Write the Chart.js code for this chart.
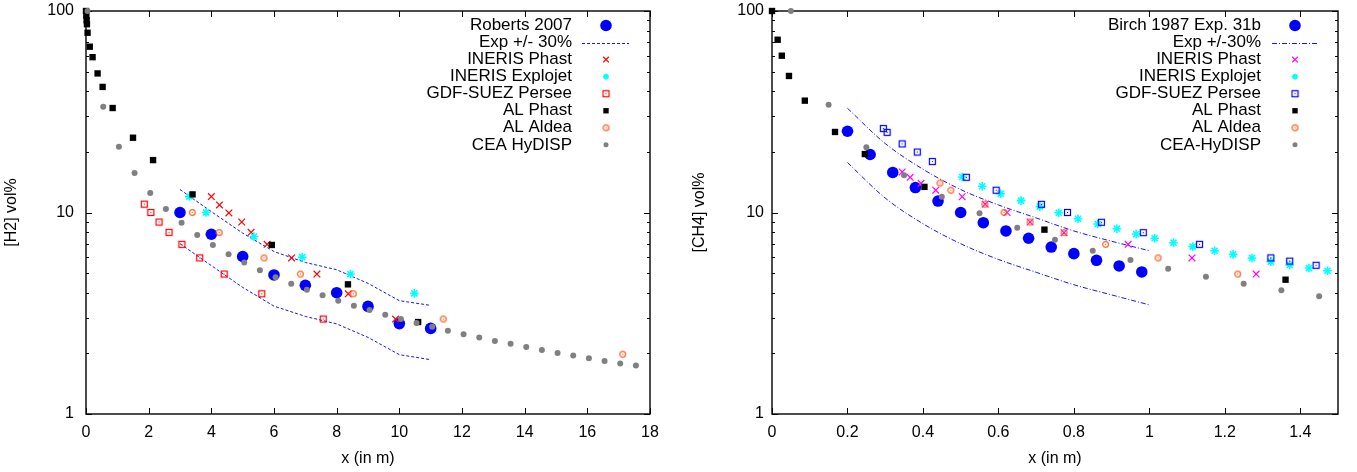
<!DOCTYPE html>
<html>
<head>
<meta charset="utf-8">
<script src="https://cdn.jsdelivr.net/npm/chart.js@4.4.0/dist/chart.umd.min.js"></script>
<style>
  html, body { margin: 0; padding: 0; background: #fff; }
  #wrap { position: relative; width: 1357px; height: 472px; }
  .panel { position: absolute; top: 0; height: 472px; }
  #left { left: 0; width: 680px; }
  #right { left: 680px; width: 677px; }
</style>
</head>
<body>
<div id="wrap">
  <div class="panel" id="left"><canvas id="h2Chart" width="680" height="472"></canvas></div>
  <div class="panel" id="right"><canvas id="ch4Chart" width="677" height="472"></canvas></div>
</div>
<script>
// ---- axes ----
const h2XTicks = [0, 2, 4, 6, 8, 10, 12, 14, 16, 18];
const ch4XTicks = [0, 0.2, 0.4, 0.6, 0.8, 1, 1.2, 1.4];
const yTicks = [1, 10, 100];
const yMinorTicks = [2, 3, 4, 5, 6, 7, 8, 9, 20, 30, 40, 50, 60, 70, 80, 90];

// ---- H2 release (left) ----
const robertsX = [3, 4, 5, 6, 7, 8, 9, 10, 11];
const robertsY = [10, 7.8, 6.05, 4.9, 4.35, 4.0, 3.42, 2.81, 2.66];
const h2BandX = [3, 4, 5, 6, 7, 8, 9, 10, 11];
const h2UpperY = [13, 10.1, 7.9, 6.4, 5.65, 5.2, 4.45, 3.65, 3.46];
const h2LowerY = [7, 5.45, 4.25, 3.43, 3.05, 2.8, 2.4, 1.97, 1.86];
const h2PhastX = [4, 4.26, 4.56, 4.97, 5.27, 5.78, 6.56, 7.37, 8.37, 9.88];
const h2PhastY = [12, 10.9, 9.95, 8.97, 7.97, 6.95, 5.95, 4.95, 3.95, 2.96];
const h2ExplojetX = [3.3, 3.83, 5.36, 6.9, 8.44, 10.48];
const h2ExplojetY = [12, 10, 7.6, 6, 4.95, 3.97];
const h2PerseeX = [1.86, 2.07, 2.33, 2.65, 3.06, 3.63, 4.41, 5.61, 7.57];
const h2PerseeY = [11, 10, 8.97, 7.97, 6.95, 5.95, 4.95, 3.95, 2.96];
const h2AlPhastX = [0, 0.01, 0.02, 0.03, 0.05, 0.12, 0.21, 0.37, 0.53, 0.85, 1.5, 2.14, 3.4, 5.93, 8.36, 10.6];
const h2AlPhastY = [100, 95, 90, 86, 78, 66.5, 59, 49, 42, 33, 23.5, 18.2, 12.3, 6.9, 4.4, 2.86];
const h2AldeaX = [3.39, 4.25, 5.68, 6.84, 8.53, 11.4, 17.13];
const h2AldeaY = [10, 7.95, 5.95, 4.95, 3.95, 2.96, 1.98];
const h2HydispX = [0.05, 0.55, 1.05, 1.55, 2.05, 2.55, 3.05, 3.55, 4.05, 4.55, 5.05, 5.55, 6.05, 6.55, 7.05, 7.55, 8.05, 8.55,
  9.05, 9.55, 10.05, 10.55, 11.05, 11.55, 12.05, 12.55, 13.05, 13.55, 14.05, 14.55, 15.05, 15.55, 16.05, 16.55, 17.05, 17.55];
const h2HydispY = [100, 33.5, 21.2, 15.7, 12.5, 10.4, 8.9, 7.74, 6.9, 6.2, 5.64, 5.17, 4.77, 4.43, 4.14, 3.88, 3.65, 3.45,
  3.28, 3.11, 2.96, 2.83, 2.71, 2.59, 2.49, 2.40, 2.30, 2.23, 2.15, 2.08, 2.01, 1.95, 1.89, 1.83, 1.78, 1.74];

// ---- CH4 release (right) ----
const birchX = [0.2, 0.26, 0.32, 0.38, 0.44, 0.5, 0.56, 0.62, 0.68, 0.74, 0.8, 0.86, 0.92, 0.98];
const birchY = [25.3, 19.4, 15.8, 13.3, 11.4, 10.0, 8.9, 8.1, 7.45, 6.74, 6.25, 5.79, 5.43, 5.07];
const ch4BandX = [0.2, 0.3, 0.4, 0.5, 0.6, 0.7, 0.8, 0.9, 1.0];
const ch4UpperY = [32.9, 22.0, 16.4, 13.0, 10.9, 9.4, 8.1, 7.2, 6.46];
const ch4LowerY = [17.7, 11.8, 8.8, 7.0, 5.85, 5.05, 4.38, 3.9, 3.48];
const ch4PhastX = [0.345, 0.366, 0.395, 0.434, 0.504, 0.565, 0.623, 0.684, 0.774, 0.944, 1.113, 1.283];
const ch4PhastY = [15.9, 14.95, 13.96, 12.9, 11.97, 11, 10, 8.97, 7.94, 6.95, 5.95, 4.95];
const ch4ExplojetX = [0.504, 0.557, 0.606, 0.66, 0.71, 0.76, 0.811, 0.863, 0.914, 0.965, 1.014, 1.064, 1.115, 1.173,
  1.222, 1.272, 1.322, 1.372, 1.423, 1.472];
const ch4ExplojetY = [15.0, 13.5, 12.4, 11.45, 10.7, 9.97, 9.31, 8.77, 8.31, 7.82, 7.45, 7.08, 6.77, 6.46,
  6.2, 5.95, 5.7, 5.49, 5.3, 5.14];
const ch4PerseeX = [0.295, 0.305, 0.345, 0.385, 0.425, 0.515, 0.594, 0.714, 0.783, 0.873, 0.984, 1.133, 1.322, 1.372, 1.442];
const ch4PerseeY = [26.1, 25.0, 21.9, 19.96, 17.9, 14.95, 12.9, 10.98, 10, 8.94, 7.94, 6.95, 5.95, 5.74, 5.47];
const ch4AlPhastX = [0, 0.015, 0.026, 0.045, 0.087, 0.167, 0.246, 0.404, 0.722, 1.361];
const ch4AlPhastY = [100, 72, 60, 47.6, 35.9, 25.1, 19.5, 13.4, 8.22, 4.64];
const ch4AldeaX = [0.445, 0.474, 0.564, 0.615, 0.684, 0.774, 0.884, 1.023, 1.234];
const ch4AldeaY = [14, 12.9, 11, 10, 8.97, 7.94, 6.95, 5.95, 4.95];
const ch4HydispX = [0.05, 0.15, 0.25, 0.35, 0.45, 0.55, 0.65, 0.75, 0.85, 0.95, 1.05, 1.15, 1.25, 1.35, 1.45];
const ch4HydispY = [100, 34.3, 21.1, 15.3, 11.97, 9.91, 8.41, 7.33, 6.46, 5.81, 5.26, 4.80, 4.43, 4.11, 3.84];

const FONT = '"Liberation Sans", Arial, sans-serif';
Chart.defaults.font.family = FONT;
Chart.defaults.font.size = 16;
Chart.defaults.color = '#000';

const pts = (xs, ys) => xs.map((x, i) => ({ x, y: ys[i] }));

// small marker bitmaps: square with centre dot, ring with centre dot
function boxedDot(color) {
  const c = document.createElement('canvas');
  c.width = c.height = 9;
  const g = c.getContext('2d');
  g.strokeStyle = color;
  g.fillStyle = color;
  g.lineWidth = 1.2;
  g.strokeRect(1.5, 1.5, 6, 6);
  g.fillRect(4, 4, 1, 1);
  return c;
}
function ringDot(color) {
  const c = document.createElement('canvas');
  c.width = c.height = 9;
  const g = c.getContext('2d');
  g.strokeStyle = color;
  g.fillStyle = color;
  g.lineWidth = 1.2;
  g.beginPath();
  g.arc(4.5, 4.5, 2.9, 0, Math.PI * 2);
  g.stroke();
  g.fillRect(4, 4, 1, 1);
  return c;
}

function marks(label, data, style, color, radius, keyRadius, extra) {
  return Object.assign({
    label, data,
    pointStyle: style,
    pointRadius: radius,
    pointHoverRadius: radius,
    pointBackgroundColor: color,
    pointBorderColor: color,
    pointBorderWidth: 0,
    showLine: false,
    clip: false,
    keyRadius
  }, extra || {});
}
function band(label, data, dash, hideKey, smooth) {
  return {
    label, data,
    showLine: true,
    pointRadius: 0,
    borderColor: 'rgb(20,20,255)',
    borderWidth: 1,
    borderDash: dash,
    tension: smooth ? 0.4 : 0,
    cubicInterpolationMode: smooth ? 'monotone' : 'default',
    hideKey
  };
}

// frame with inward ticks on all four sides
const frameTicks = {
  id: 'frameTicks',
  beforeDatasetsDraw(chart, args, o) {
    const { ctx, chartArea: a } = chart;
    const xs = chart.scales.x, ys = chart.scales.y;
    ctx.save();
    ctx.strokeStyle = '#000';
    ctx.lineWidth = 1;
    ctx.beginPath();
    o.xTicks.forEach(v => {
      const p = Math.round(xs.getPixelForValue(v)) + 0.5;
      ctx.moveTo(p, a.bottom); ctx.lineTo(p, a.bottom - 6);
      ctx.moveTo(p, a.top); ctx.lineTo(p, a.top + 6);
    });
    const yTick = (v, len) => {
      const p = Math.round(ys.getPixelForValue(v)) + 0.5;
      ctx.moveTo(a.left, p); ctx.lineTo(a.left + len, p);
      ctx.moveTo(a.right, p); ctx.lineTo(a.right - len, p);
    };
    yTicks.forEach(v => yTick(v, 6));
    yMinorTicks.forEach(v => yTick(v, 3));
    ctx.stroke();
    ctx.lineWidth = 1.4;
    ctx.strokeRect(a.left, a.top, a.right - a.left, a.bottom - a.top);
    ctx.restore();
  }
};

// key in the top right corner: text right aligned, sample on its right
const keyBox = {
  id: 'keyBox',
  afterDatasetsDraw(chart, args, o) {
    const ctx = chart.ctx;
    ctx.save();
    ctx.font = '17px ' + FONT;
    ctx.textAlign = 'right';
    ctx.textBaseline = 'middle';
    let row = 0;
    chart.data.datasets.forEach(ds => {
      if (ds.hideKey) return;
      const y = o.top + row * o.step;
      row++;
      ctx.fillStyle = '#000';
      ctx.fillText(ds.label, o.textRight, y);
      if (ds.showLine) {
        ctx.save();
        ctx.strokeStyle = ds.borderColor;
        ctx.lineWidth = ds.borderWidth;
        ctx.setLineDash(ds.borderDash || []);
        ctx.beginPath();
        ctx.moveTo(o.lineFrom, Math.round(y) + 0.5);
        ctx.lineTo(o.lineTo, Math.round(y) + 0.5);
        ctx.stroke();
        ctx.restore();
      } else {
        ctx.fillStyle = ds.pointBackgroundColor;
        ctx.strokeStyle = ds.pointBorderColor;
        ctx.lineWidth = ds.pointBorderWidth;
        Chart.helpers.drawPoint(ctx, {
          pointStyle: ds.pointStyle, radius: ds.keyRadius, rotation: 0, borderWidth: ds.pointBorderWidth
        }, o.symbolX, y);
      }
    });
    ctx.restore();
  }
};

function plotPanel(id, o) {
  // later datasets are drawn on top
  o.datasets.forEach((ds, i) => { ds.order = o.datasets.length - i; });
  return new Chart(document.getElementById(id), {
    type: 'scatter',
    data: { datasets: o.datasets },
    options: {
      responsive: false,
      animation: false,
      events: [],
      layout: { padding: { top: 11, right: o.padRight, left: 0, bottom: 0 } },
      plugins: {
        legend: { display: false },
        tooltip: { enabled: false },
        frameTicks: { xTicks: o.xTicks },
        keyBox: o.key
      },
      scales: {
        x: {
          type: 'linear',
          min: 0,
          max: o.xMax,
          afterBuildTicks: s => { s.ticks = o.xTicks.map(v => ({ value: v })); },
          afterFit: s => { s.height = 58; s.paddingLeft = 0; s.paddingRight = 0; },
          ticks: { padding: 9, maxRotation: 0, autoSkip: false, callback: v => String(v) },
          grid: { display: false, drawTicks: false },
          border: { display: false },
          title: { display: true, text: 'x (in m)', padding: { top: 0, bottom: 4 } }
        },
        y: {
          type: 'logarithmic',
          min: 1,
          max: 100,
          afterBuildTicks: s => { s.ticks = yTicks.map(v => ({ value: v })); },
          afterFit: s => { s.width = o.yWidth; s.paddingTop = 0; s.paddingBottom = 0; },
          ticks: { padding: o.yPad, autoSkip: false, callback: v => String(v) },
          grid: { display: false, drawTicks: false },
          border: { display: false },
          title: { display: true, text: o.yTitle, padding: { top: o.yTitlePad, bottom: 0 } }
        }
      }
    },
    plugins: [frameTicks, keyBox]
  });
}

plotPanel('h2Chart', {
  xTicks: h2XTicks, xMax: 18, padRight: 30, yWidth: 86, yPad: 12,
  yTitle: '[H2] vol%', yTitlePad: 2,
  key: { top: 25.5, step: 17.05, textRight: 572, symbolX: 606, lineFrom: 582, lineTo: 629 },
  datasets: [
    marks('Roberts 2007', pts(robertsX, robertsY), 'circle', '#0000ff', 5.8, 5.8),
    band('Exp +/- 30%', pts(h2BandX, h2UpperY), [3, 2], false, false),
    band('Exp -30%', pts(h2BandX, h2LowerY), [3, 2], true, false),
    marks('INERIS Phast', pts(h2PhastX, h2PhastY), 'crossRot', '#ff0000', 4.7, 4, { pointBorderWidth: 1.2 }),
    marks('INERIS Explojet', pts(h2ExplojetX, h2ExplojetY), 'star', '#00ffff', 4.3, 3, { pointBorderWidth: 1.6 }),
    marks('GDF-SUEZ Persee', pts(h2PerseeX, h2PerseeY), boxedDot('#ff0000'), '#ff0000', 4, 4),
    marks('AL Phast', pts(h2AlPhastX, h2AlPhastY), 'rect', '#000000', 4.5, 3.8),
    marks('AL Aldea', pts(h2AldeaX, h2AldeaY), ringDot('#ff6020'), '#ff6020', 4, 4),
    marks('CEA HyDISP', pts(h2HydispX, h2HydispY), 'circle', '#808080', 3, 2.5)
  ]
});

plotPanel('ch4Chart', {
  xTicks: ch4XTicks, xMax: 1.5, padRight: 19, yWidth: 92, yPad: 8,
  yTitle: '[CH4] vol%', yTitlePad: 10,
  key: { top: 25.5, step: 17.05, textRight: 581, symbolX: 615, lineFrom: 592, lineTo: 638 },
  datasets: [
    marks('Birch 1987 Exp. 31b', pts(birchX, birchY), 'circle', '#0000ff', 5.8, 5.8),
    band('Exp +/-30%', pts(ch4BandX, ch4UpperY), [5, 2, 1, 2], false, true),
    band('Exp -30%', pts(ch4BandX, ch4LowerY), [5, 2, 1, 2], true, true),
    marks('INERIS Phast', pts(ch4PhastX, ch4PhastY), 'crossRot', '#ff00ff', 4.7, 4, { pointBorderWidth: 1.2 }),
    marks('INERIS Explojet', pts(ch4ExplojetX, ch4ExplojetY), 'star', '#00ffff', 4.3, 3, { pointBorderWidth: 1.6 }),
    marks('GDF-SUEZ Persee', pts(ch4PerseeX, ch4PerseeY), boxedDot('#0000ff'), '#0000ff', 4, 4),
    marks('AL Phast', pts(ch4AlPhastX, ch4AlPhastY), 'rect', '#000000', 4.5, 3.8),
    marks('AL Aldea', pts(ch4AldeaX, ch4AldeaY), ringDot('#ff6020'), '#ff6020', 4, 4),
    marks('CEA-HyDISP', pts(ch4HydispX, ch4HydispY), 'circle', '#808080', 3, 2.5)
  ]
});
</script>
</body>
</html>
